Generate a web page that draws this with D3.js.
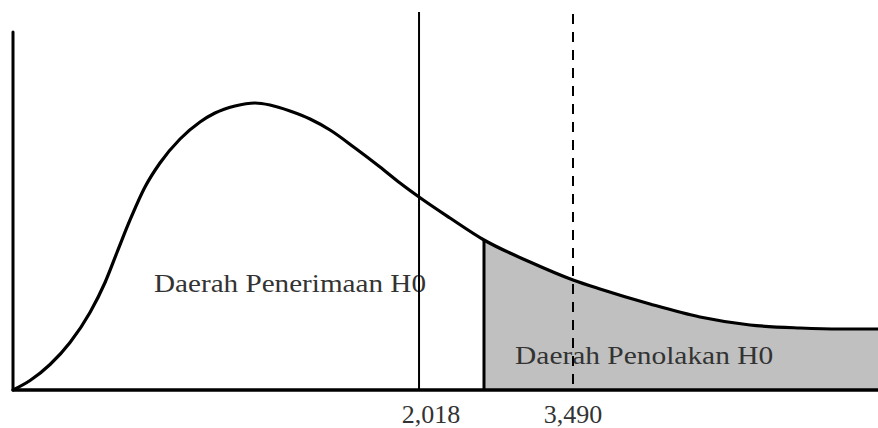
<!DOCTYPE html>
<html>
<head>
<meta charset="utf-8">
<script src="https://cdn.jsdelivr.net/npm/d3@7"></script>
<style>
  html, body { margin: 0; padding: 0; background: #fff; }
  svg { display: block; }
</style>
</head>
<body>
<svg id="chart" width="878" height="428"></svg>
<script>
// ---- data (abstract units: x 0..100 along axis, y 0..100 density) ----
const curveX = [0, 1.97, 4.28, 6.59, 8.90, 10.64, 12.02, 13.53, 15.26, 16.99, 19.31, 21.62, 23.35, 25.66, 27.98, 29.71, 32.02, 34.34, 36.65, 39.54, 42.43, 44.74, 46.94, 50.52, 54.45, 59.77, 64.74, 67.86, 73.64, 79.42, 85.20, 90.98, 95.61, 100];
const curveY = [0, 2.65, 7.12, 13.27, 21.65, 30.03, 38.41, 47.49, 56.70, 63.41, 70.11, 74.86, 77.37, 79.33, 80.17, 79.61, 77.93, 75.70, 72.63, 67.60, 62.29, 57.82, 53.91, 48.04, 41.90, 35.75, 30.73, 28.21, 24.02, 20.39, 18.16, 17.32, 17.04, 17.04];
const criticalPos = [46.94, 64.74];          // positions of the two vertical lines
const criticalLabels = ["2,018", "3,490"];
const criticalStyle = ["solid", "dashed"];
const rejectStart = 54.45;                    // start of shaded rejection region
const regionLabels = ["Daerah Penerimaan H0", "Daerah Penolakan H0"];
const regionLabelX = [16.3, 58.05];
const regionLabelY = [27.4, 7.3];

// ---- layout ----
const svg = d3.select("#chart");
const x = d3.scaleLinear().domain([0, 100]).range([13, 878]);
const y = d3.scaleLinear().domain([0, 100]).range([390, 32]);

const pts = curveX.map((d, i) => [d, curveY[i]]);

svg.append("defs").append("clipPath").attr("id", "rej")
  .append("rect")
  .attr("x", x(rejectStart)).attr("y", 0)
  .attr("width", x(100) - x(rejectStart)).attr("height", y(0));

const curveType = d3.curveMonotoneX;

const area = d3.area()
  .x(d => x(d[0])).y0(y(0)).y1(d => y(d[1]))
  .curve(curveType);

svg.append("path")
  .datum(pts)
  .attr("d", area)
  .attr("clip-path", "url(#rej)")
  .attr("fill", "#c0c0c0");

const rejIdx = curveX.indexOf(rejectStart);
svg.append("line")
  .attr("x1", x(rejectStart)).attr("x2", x(rejectStart))
  .attr("y1", y(curveY[rejIdx])).attr("y2", y(0))
  .attr("stroke", "#000").attr("stroke-width", 3);

// region labels
const fontFam = "'Liberation Serif', 'Times New Roman', Times, serif";
const textLens = [272, 258];
svg.selectAll("text.region")
  .data(regionLabels)
  .enter().append("text")
  .attr("class", "region")
  .attr("x", (d, i) => x(regionLabelX[i]))
  .attr("y", (d, i) => y(regionLabelY[i]))
  .attr("font-family", fontFam)
  .attr("font-size", 26)
  .attr("fill", "#333")
  .attr("textLength", (d, i) => textLens[i])
  .attr("lengthAdjust", "spacingAndGlyphs")
  .text(d => d);

// curve
const line = d3.line()
  .x(d => x(d[0])).y(d => y(d[1]))
  .curve(curveType);
svg.append("path")
  .datum(pts)
  .attr("d", line)
  .attr("fill", "none")
  .attr("stroke", "#000")
  .attr("stroke-width", 3.2)
  .attr("stroke-linejoin", "round");

// critical lines
const lineTops = [12, 14];
svg.selectAll("line.crit")
  .data(criticalPos)
  .enter().append("line")
  .attr("class", "crit")
  .attr("x1", d => x(d)).attr("x2", d => x(d))
  .attr("y1", (d, i) => lineTops[i]).attr("y2", y(0))
  .attr("stroke", "#000")
  .attr("stroke-width", 2)
  .attr("stroke-dasharray", (d, i) => criticalStyle[i] === "dashed" ? "10,8" : null);

// axes
svg.append("line")
  .attr("x1", x(0)).attr("x2", x(0))
  .attr("y1", 32).attr("y2", y(0))
  .attr("stroke", "#000").attr("stroke-width", 3).attr("stroke-linecap", "round");
svg.append("line")
  .attr("x1", x(0)).attr("x2", x(100))
  .attr("y1", y(0)).attr("y2", y(0))
  .attr("stroke", "#000").attr("stroke-width", 3.5).attr("stroke-linecap", "round");

// tick labels
const labelDx = [12, 0];
svg.selectAll("text.tick")
  .data(criticalLabels)
  .enter().append("text")
  .attr("class", "tick")
  .attr("x", (d, i) => x(criticalPos[i]) + labelDx[i])
  .attr("y", 423)
  .attr("text-anchor", "middle")
  .attr("font-family", fontFam)
  .attr("font-size", 26)
  .attr("fill", "#333")
  .text(d => d);
</script>
</body>
</html>
